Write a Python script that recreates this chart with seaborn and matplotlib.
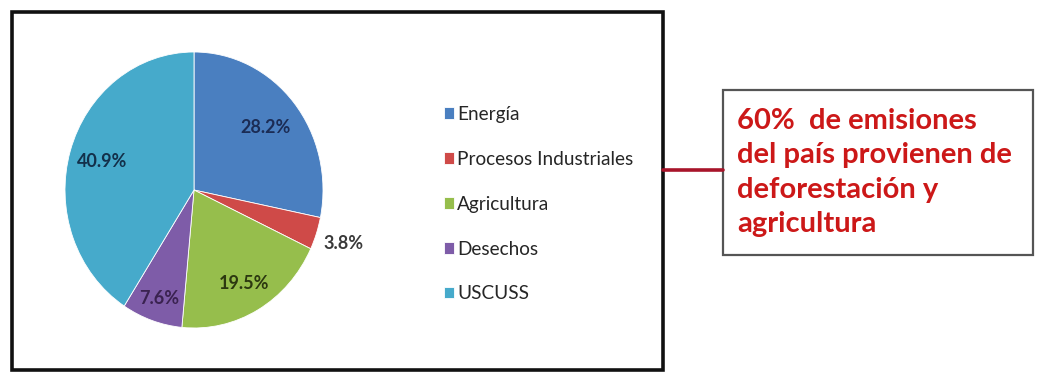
import numpy as np
import matplotlib
matplotlib.use("Agg")
import matplotlib.pyplot as plt
from matplotlib.patches import Rectangle
from matplotlib.lines import Line2D
import seaborn as sns

# Emissions by sector (percent of national total)
categories = ["Energía", "Procesos Industriales", "Agricultura", "Desechos", "USCUSS"]
shares = [28.2, 3.8, 19.5, 7.6, 40.9]
slice_colors = ["#4a7fc0", "#cf4a48", "#96be4c", "#7e5ca8", "#46aacb"]
label_colors = ["#1b2c55", "#3a3a3a", "#2c3810", "#3a2250", "#13304a"]
label_radius = [0.72, 1.22, 0.78, 0.83, 0.74]
callout_lines = ["60%  de emisiones", "del país provienen de", "deforestación y", "agricultura"]

sns.set_style("white")
plt.rcParams["font.family"] = ["Lato", "DejaVu Sans"]

W, H = 1042, 379
fig = plt.figure(figsize=(W / 100, H / 100), dpi=100)
fig.patch.set_facecolor("white")


def fx(x):
    return x / W


def fy(y):
    return 1 - y / H


# Pie axes (slightly taller than wide, as in the chart area)
px0, px1, py0, py1 = 65, 323, 52, 328
ax = fig.add_axes([fx(px0), fy(py1), (px1 - px0) / W, (py1 - py0) / H])
palette = sns.color_palette(slice_colors)
wedges, _ = ax.pie(shares, colors=palette, startangle=90, counterclock=False,
                   radius=1.0, wedgeprops=dict(edgecolor="white", linewidth=0.6))
ax.set_aspect("auto")
ax.set_xlim(-1, 1)
ax.set_ylim(-1, 1)
ax.axis("off")

for w, val, r, c in zip(wedges, shares, label_radius, label_colors):
    mid = np.deg2rad((w.theta1 + w.theta2) / 2)
    ax.text(r * np.cos(mid), r * np.sin(mid), f"{val:.1f}%", ha="center", va="center",
            fontsize=13, fontweight="bold", color=c, clip_on=False)

# Legend
fig.legend(wedges, categories, loc="upper left", bbox_to_anchor=(fx(436), fy(98)),
           frameon=False, fontsize=13.7, handlelength=0.55, handleheight=0.55,
           handletextpad=0.15, labelspacing=1.47, borderaxespad=0)

# Outer chart frame
fig.add_artist(Rectangle((fx(12), fy(370)), (663 - 12) / W, (370 - 12) / H,
                         transform=fig.transFigure, fill=False,
                         edgecolor="#111111", linewidth=2.6))

# Callout connector and box
fig.add_artist(Line2D([fx(663), fx(723)], [fy(170), fy(170)], transform=fig.transFigure,
                      color="#a8142a", linewidth=2.6))
fig.add_artist(Rectangle((fx(723), fy(255)), (1033 - 723) / W, (255 - 90) / H,
                         transform=fig.transFigure, fill=False,
                         edgecolor="#555555", linewidth=1.6))
fig.text(fx(737), fy(108), "\n".join(callout_lines), ha="left", va="top",
         fontsize=21, fontweight="bold", color="#cc1818", linespacing=1.4)

fig.savefig("out.png", dpi=100, facecolor="white")
